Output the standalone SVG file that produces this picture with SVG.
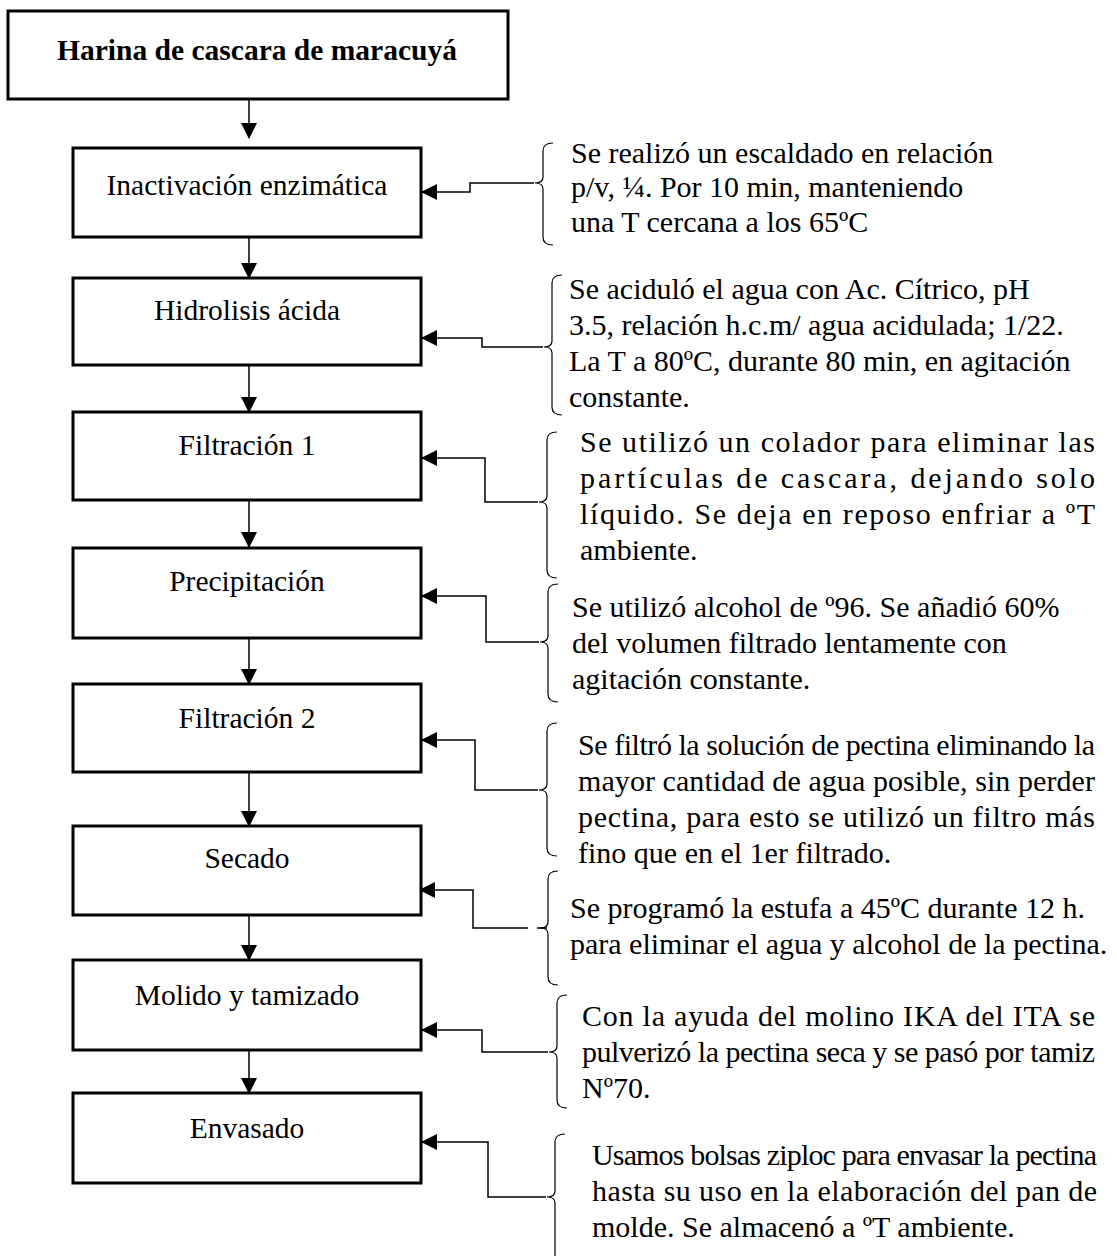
<svg xmlns="http://www.w3.org/2000/svg" width="1117" height="1256" viewBox="0 0 1117 1256">
<defs>
<marker id="ah" markerWidth="16" markerHeight="16" viewBox="0 0 16 16" refX="15" refY="8" orient="auto" markerUnits="userSpaceOnUse">
<path d="M0,0 L16,8 L0,16 Z" fill="#000"/>
</marker>
<style>
.box{fill:#fff;stroke:#000;stroke-width:3}
.t{font-family:"Liberation Serif","Times New Roman",serif;font-size:30px;fill:#000}
.b{font-size:29.5px}
.title{font-weight:bold;text-anchor:middle}
.c{text-anchor:middle}
.br{fill:none;stroke:#000;stroke-width:1.2}
.cn{fill:none;stroke:#000;stroke-width:1.5}
</style>
</defs>
<rect width="1117" height="1256" fill="#fff"/>

<g id="connectors">
<path class="cn" d="M249,99 V138" marker-end="url(#ah)"/>
<path class="cn" d="M249,237 V278" marker-end="url(#ah)"/>
<path class="cn" d="M249,365 V412" marker-end="url(#ah)"/>
<path class="cn" d="M249,500 V547" marker-end="url(#ah)"/>
<path class="cn" d="M249,638 V684" marker-end="url(#ah)"/>
<path class="cn" d="M249,772 V826" marker-end="url(#ah)"/>
<path class="cn" d="M249,915 V960" marker-end="url(#ah)"/>
<path class="cn" d="M249,1050 V1093" marker-end="url(#ah)"/>

<path class="cn" d="M534,183 H470 V192 H422" marker-end="url(#ah)"/>
<path class="cn" d="M543,347 H482 V338 H422" marker-end="url(#ah)"/>
<path class="cn" d="M538,502 H485 V458 H422" marker-end="url(#ah)"/>
<path class="cn" d="M539,642 H486 V596 H422" marker-end="url(#ah)"/>
<path class="cn" d="M538,790 H475 V740 H422" marker-end="url(#ah)"/>
<path class="cn" d="M528,928 H473 V890 H420" marker-end="url(#ah)"/>
<path class="cn" d="M537,928 H547"/>
<path class="cn" d="M548,1052 H482 V1030 H422" marker-end="url(#ah)"/>
<path class="cn" d="M546,1197 H488 V1142 H422" marker-end="url(#ah)"/>
</g>

<g id="n0"><rect class="box" x="8" y="11" width="500" height="88"/><text class="t b title" x="257" y="60">Harina de cascara de maracuyá</text></g>
<g id="n1"><rect class="box" x="73" y="148" width="348" height="89"/><text class="t b c" x="247" y="195">Inactivación enzimática</text></g>
<g id="n2"><rect class="box" x="73" y="278" width="348" height="87"/><text class="t b c" x="247" y="320">Hidrolisis ácida</text></g>
<g id="n3"><rect class="box" x="73" y="412" width="348" height="88"/><text class="t b c" x="247" y="455">Filtración 1</text></g>
<g id="n4"><rect class="box" x="73" y="548" width="348" height="90"/><text class="t b c" x="247" y="591">Precipitación</text></g>
<g id="n5"><rect class="box" x="73" y="684" width="348" height="88"/><text class="t b c" x="247" y="728">Filtración 2</text></g>
<g id="n6"><rect class="box" x="73" y="826" width="348" height="89"/><text class="t b c" x="247" y="868">Secado</text></g>
<g id="n7"><rect class="box" x="73" y="960" width="348" height="90"/><text class="t b c" x="247" y="1005">Molido y tamizado</text></g>
<g id="n8"><rect class="box" x="73" y="1093" width="348" height="90"/><text class="t b c" x="247" y="1138">Envasado</text></g>

<g id="note1">
<path class="br" d="M553,143 Q543,143 543,151 V177 Q543,183 535,183 Q543,183 543,189 V237 Q543,245 553,245"/>
<text class="t" x="571" y="163">Se realizó un escaldado en relación</text>
<text class="t" x="571" y="197">p/v, ¼. Por 10 min, manteniendo</text>
<text class="t" x="571" y="232">una T cercana a los 65ºC</text>
</g>
<g id="note2">
<path class="br" d="M562,275 Q552,275 552,283 V341 Q552,347 544,347 Q552,347 552,353 V407 Q552,415 562,415"/>
<text class="t" x="569" y="299">Se aciduló el agua con Ac. Cítrico, pH</text>
<text class="t" x="569" y="335">3.5, relación h.c.m/ agua acidulada; 1/22.</text>
<text class="t" x="569" y="371">La T a 80ºC, durante 80 min, en agitación</text>
<text class="t" x="569" y="407">constante.</text>
</g>
<g id="note3">
<path class="br" d="M557,432 Q547,432 547,440 V496 Q547,502 539,502 Q547,502 547,508 V570 Q547,578 557,578"/>
<text class="t" x="580" y="452" textLength="515" lengthAdjust="spacing">Se utilizó un colador para eliminar las</text>
<text class="t" x="580" y="488" textLength="515" lengthAdjust="spacing">partículas de cascara, dejando solo</text>
<text class="t" x="580" y="524" textLength="515" lengthAdjust="spacing">líquido. Se deja en reposo enfriar a ºT</text>
<text class="t" x="580" y="560">ambiente.</text>
</g>
<g id="note4">
<path class="br" d="M558,584 Q548,584 548,592 V636 Q548,642 540,642 Q548,642 548,648 V694 Q548,702 558,702"/>
<text class="t" x="572" y="617">Se utilizó alcohol de º96. Se añadió 60%</text>
<text class="t" x="572" y="653">del volumen filtrado lentamente con</text>
<text class="t" x="572" y="689">agitación constante.</text>
</g>
<g id="note5">
<path class="br" d="M557,723 Q547,723 547,731 V784 Q547,790 539,790 Q547,790 547,796 V848 Q547,856 557,856"/>
<text class="t" x="578" y="755" textLength="517" lengthAdjust="spacing">Se filtró la solución de pectina eliminando la</text>
<text class="t" x="578" y="791" textLength="517" lengthAdjust="spacing">mayor cantidad de agua posible, sin perder</text>
<text class="t" x="578" y="827" textLength="517" lengthAdjust="spacing">pectina, para esto se utilizó un filtro más</text>
<text class="t" x="578" y="863">fino que en el 1er filtrado.</text>
</g>
<g id="note6">
<path class="br" d="M558,871 Q548,871 548,879 V922 Q548,928 540,928 Q548,928 548,934 V977 Q548,985 558,985"/>
<text class="t" x="570" y="918">Se programó la estufa a 45ºC durante 12 h.</text>
<text class="t" x="570" y="954">para eliminar el agua y alcohol de la pectina.</text>
</g>
<g id="note7">
<path class="br" d="M567,995 Q557,995 557,1003 V1046 Q557,1052 549,1052 Q557,1052 557,1058 V1100 Q557,1108 567,1108"/>
<text class="t" x="582" y="1026" textLength="513" lengthAdjust="spacing">Con la ayuda del molino IKA del ITA se</text>
<text class="t" x="582" y="1062" textLength="513" lengthAdjust="spacing">pulverizó la pectina seca y se pasó por tamiz</text>
<text class="t" x="582" y="1098">Nº70.</text>
</g>
<g id="note8">
<path class="br" d="M565,1134 Q555,1134 555,1142 V1191 Q555,1197 547,1197 Q555,1197 555,1203 V1256"/>
<text class="t" x="592" y="1165" textLength="505" lengthAdjust="spacing">Usamos bolsas ziploc para envasar la pectina</text>
<text class="t" x="592" y="1201" textLength="505" lengthAdjust="spacing">hasta su uso en la elaboración del pan de</text>
<text class="t" x="592" y="1237">molde. Se almacenó a ºT ambiente.</text>
</g>
</svg>
